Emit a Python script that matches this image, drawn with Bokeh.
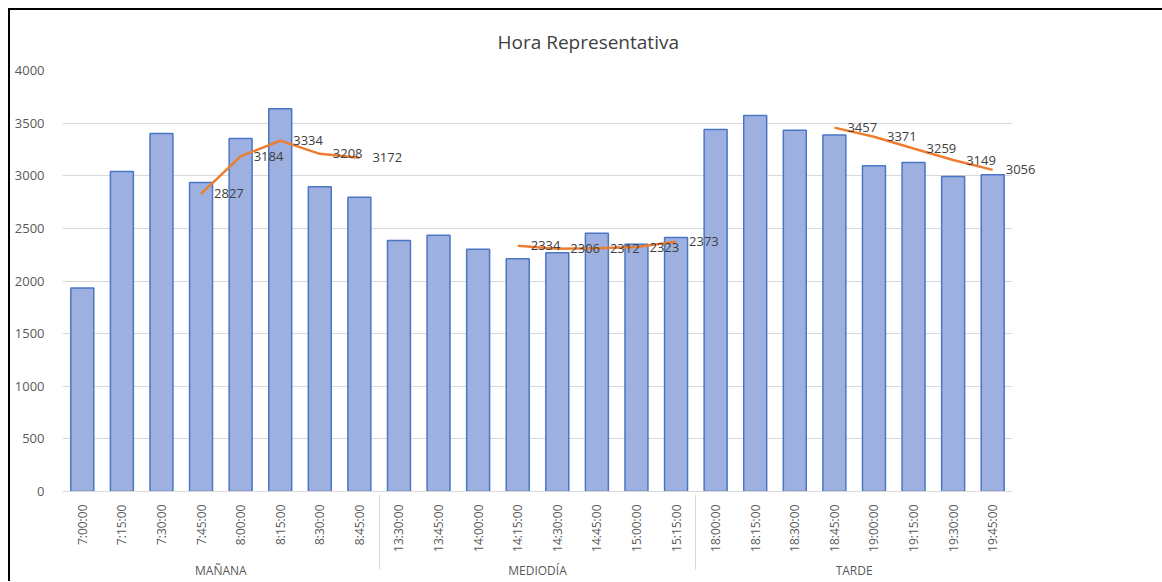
import math
from bokeh.plotting import figure
from bokeh.models import (ColumnDataSource, FactorRange, Range1d, FixedTicker,
                          Legend, LegendItem, Label)
from bokeh.embed import file_html
from bokeh.resources import INLINE

# ---- data ----
periods = ["MAÑANA"] * 8 + ["MEDIODÍA"] * 8 + ["TARDE"] * 8
times = ["7:00:00", "7:15:00", "7:30:00", "7:45:00", "8:00:00", "8:15:00", "8:30:00", "8:45:00",
         "13:30:00", "13:45:00", "14:00:00", "14:15:00", "14:30:00", "14:45:00", "15:00:00", "15:15:00",
         "18:00:00", "18:15:00", "18:30:00", "18:45:00", "19:00:00", "19:15:00", "19:30:00", "19:45:00"]
veq = [1933, 3040, 3401, 2936, 3354, 3636, 2895, 2796,
       2385, 2435, 2302, 2211, 2268, 2454, 2350, 2413,
       3439, 3572, 3433, 3386, 3094, 3126, 2993, 3009]
media_movil = [None, None, None, 2827, 3184, 3334, 3208, 3172,
               None, None, None, 2334, 2306, 2312, 2323, 2373,
               None, None, None, 3457, 3371, 3259, 3149, 3056]
y_ticks = [0, 500, 1000, 1500, 2000, 2500, 3000, 3500, 4000]

FONT = "Open Sans"
GRAY = "#595959"
DARK = "#404040"

factors = list(zip(periods, times))
mm = [float("nan") if v is None else v for v in media_movil]

src = ColumnDataSource(dict(x=factors, veq=veq, mm=mm))

p = figure(x_range=FactorRange(*factors, group_padding=0, range_padding=0, factor_padding=0),
           y_range=Range1d(0, 4000),
           frame_width=950, frame_height=421,
           min_border_left=52, min_border_right=140, min_border_top=60, min_border_bottom=86,
           output_backend="svg", toolbar_location=None)
p.styles = {"border-left": "2px solid black", "border-top": "2px solid black",
            "margin-left": "8px", "margin-top": "8px"}

p.title.text = "Hora Representativa"
p.title.align = "left"
p.title.offset = 435
p.title.standoff = 31
p.title.text_font = FONT
p.title.text_font_size = "19px"
p.title.text_font_style = "normal"
p.title.text_color = DARK

p.outline_line_color = None
p.background_fill_color = "white"
p.border_fill_color = "white"

bars = p.vbar(x="x", top="veq", width=0.58, source=src,
              fill_color="#9db0df", line_color="#4a76c6", line_width=1.5)
line = p.line(x="x", y="mm", source=src, line_color="#ed7d31", line_width=2.5)

# data labels: synthetic factor coordinate of category i is i + 0.5 (no padding)
for i, v in enumerate(media_movil):
    if v is None:
        continue
    p.add_layout(Label(x=i + 0.5, y=v, text=str(v), x_offset=13,
                       text_baseline="middle", text_align="left",
                       text_font=FONT, text_font_size="13px", text_color=DARK), "right")

# y axis
ya = p.yaxis[0]
ya.ticker = FixedTicker(ticks=y_ticks)
ya.axis_line_color = None
ya.major_tick_line_color = None
ya.minor_tick_line_color = None
ya.major_label_text_font = FONT
ya.major_label_text_font_size = "13px"
ya.major_label_text_color = GRAY
ya.major_label_standoff = 12

p.ygrid.grid_line_color = "#d9d9d9"
p.ygrid.ticker = FixedTicker(ticks=y_ticks)
p.xgrid.grid_line_color = None

# x axis
xa = p.xaxis[0]
xa.major_label_orientation = math.pi / 2
xa.major_label_text_font = FONT
xa.major_label_text_font_size = "12px"
xa.major_label_text_color = GRAY
xa.major_label_standoff = 7
xa.major_tick_line_color = None
xa.minor_tick_line_color = None
xa.axis_line_color = "#d9d9d9"
xa.group_text_font = FONT
xa.group_text_font_size = "12px"
xa.group_text_font_style = "normal"
xa.group_text_color = GRAY
xa.separator_line_color = "#d9d9d9"
xa.separator_line_width = 1

legend = Legend(items=[LegendItem(label="Veq/15 min", renderers=[bars]),
                       LegendItem(label="MEDIA MOVIL", renderers=[line])],
                location=(22, 147), orientation="vertical",
                border_line_color=None, background_fill_alpha=0,
                label_text_font=FONT, label_text_font_size="12px", label_text_color=GRAY,
                glyph_width=30, glyph_height=10, label_height=16, spacing=12,
                padding=0, margin=0, label_standoff=4)
p.add_layout(legend, "right")

open("out.html", "w").write(file_html(p, INLINE))
